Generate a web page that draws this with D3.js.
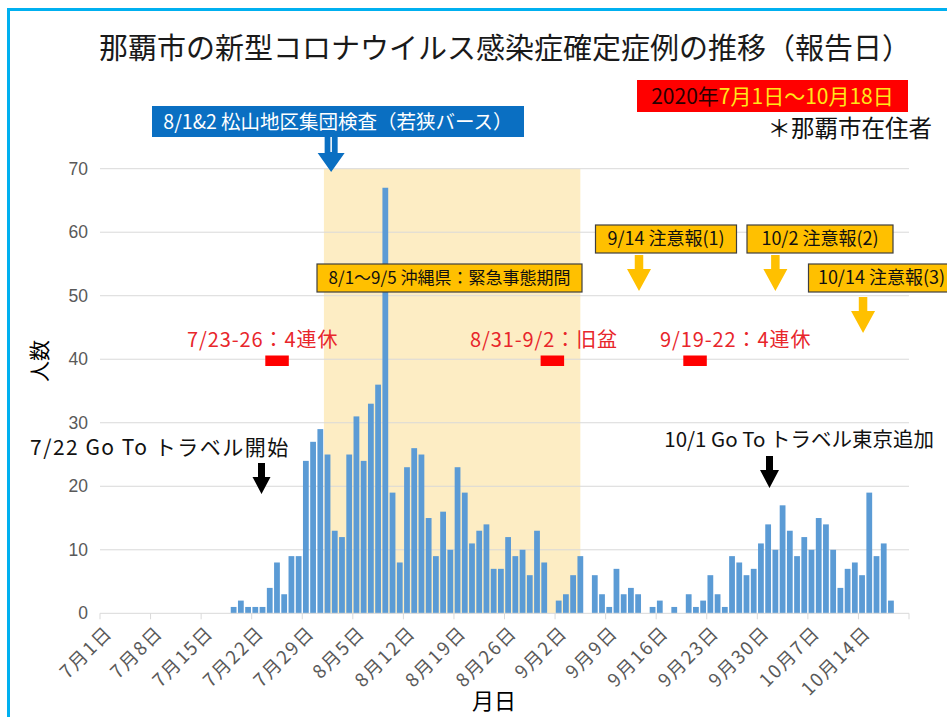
<!DOCTYPE html>
<html><head><meta charset="utf-8">
<script src="https://cdn.jsdelivr.net/npm/d3@7"></script>
<style>body{margin:0;background:#fff}svg{display:block}text{font-family:"Noto Sans CJK JP","Noto Sans",sans-serif}</style>
</head><body>
<svg id="chart" width="947" height="717"></svg>
<script>
// ---------- data ----------
const axisStart = "2020-07-01";
const axisEnd = "2020-10-20";     // last category shown on the axis
const dataStart = "2020-07-01";
// daily confirmed cases (報告日), 7/1 .. 10/18
const julyCases = [0,0,0,0,0,0,0,0,0,0,0,0,0,0,0,0,0,0,1,2,1,1,1,4,8,3,9,9,24,27,29];
const augCases  = [25,13,12,25,31,24,33,36,67,19,8,23,26,25,15,9,16,10,23,19,11,13,14,7,7,12,9,10,6,13,8];
const sepCases  = [0,2,3,6,9,0,6,3,1,7,3,4,3,0,1,2,0,1,0,3,1,2,6,3,1,9,8,6,7,11];
const octCases  = [14,10,17,13,9,12,10,15,14,10,4,7,8,6,19,9,11,2];
const yTicks = [0,10,20,30,40,50,60,70];
const xTickDates  = ["2020-07-01","2020-07-08","2020-07-15","2020-07-22","2020-07-29","2020-08-05","2020-08-12","2020-08-19","2020-08-26","2020-09-02","2020-09-09","2020-09-16","2020-09-23","2020-09-30","2020-10-07","2020-10-14"];
const xTickLabels = ["7月1日","7月8日","7月15日","7月22日","7月29日","8月5日","8月12日","8月19日","8月26日","9月2日","9月9日","9月16日","9月23日","9月30日","10月7日","10月14日"];
const emergencyStart = "2020-08-01", emergencyEnd = "2020-09-05";

const chartTitle = "那覇市の新型コロナウイルス感染症確定症例の推移（報告日）";

// ---------- setup ----------
const parse = d3.timeParse("%Y-%m-%d");
const fmt = d3.timeFormat("%Y-%m-%d");
const cases = [].concat(julyCases, augCases, sepCases, octCases);
const days = d3.timeDay.range(parse(axisStart), d3.timeDay.offset(parse(axisEnd), 1)).map(fmt);
const d0 = parse(dataStart);
const data = cases.map((v, i) => ({date: fmt(d3.timeDay.offset(d0, i)), value: v}));

const svg = d3.select("#chart");
const pL = 100, pR = 909, pT = 168.7, pB = 613.3;

const x = d3.scaleBand().domain(days).range([pL, pR]).paddingInner(0.2).paddingOuter(0.1);
const y = d3.scaleLinear().domain([0, 70]).range([pB, pT]);
const step = x.step();
const edge = d => x(d) - step * 0.1;          // left edge of a day's category
const mid = d => x(d) + x.bandwidth() / 2;

// outer frame
svg.append("path").attr("d", `M8.5,717 L8.5,9.5 L947,9.5`).attr("fill", "none")
   .attr("stroke", "#00b0f0").attr("stroke-width", 3);

// emergency shade
svg.append("rect").attr("x", edge(emergencyStart)).attr("y", pT)
   .attr("width", mid(emergencyEnd) - edge(emergencyStart)).attr("height", pB - pT)
   .attr("fill", "#fdedc4");

// gridlines
svg.append("g").selectAll("line").data(yTicks.filter(t => t > 0)).join("line")
   .attr("x1", pL).attr("x2", pR).attr("y1", d => y(d)).attr("y2", d => y(d))
   .attr("stroke", "#d9d9d9").attr("stroke-width", 1);

// y axis labels
const yAxis = d3.axisLeft(y).tickValues(yTicks).tickSize(0).tickPadding(12);
const gy = svg.append("g").attr("transform", `translate(${pL},0)`).call(yAxis);
gy.select(".domain").remove();
gy.selectAll("text").attr("font-size", 17.5).attr("fill", "#595959")
  .style("font-family", "'Liberation Sans','Noto Sans',sans-serif");

// bars
svg.append("g").selectAll("rect").data(data.filter(d => d.value > 0)).join("rect")
   .attr("x", d => x(d.date)).attr("width", x.bandwidth())
   .attr("y", d => y(d.value)).attr("height", d => y(0) - y(d.value))
   .attr("fill", "#5b9bd5");

// x axis line + ticks
svg.append("line").attr("x1", pL).attr("x2", pR).attr("y1", pB).attr("y2", pB)
   .attr("stroke", "#d9d9d9");
const gx = svg.append("g");
gx.selectAll("line").data(xTickDates.concat(["end"])).join("line")
  .attr("x1", d => d === "end" ? pR : edge(d)).attr("x2", d => d === "end" ? pR : edge(d))
  .attr("y1", pB).attr("y2", pB + 6).attr("stroke", "#d9d9d9");
gx.selectAll("text").data(xTickDates).join("text")
  .attr("transform", d => `translate(${edge(d) + 9},${pB + 16}) rotate(-45)`)
  .attr("text-anchor", "end").attr("dy", "0.35em")
  .attr("font-size", 18.5).attr("letter-spacing", 1.8).attr("fill", "#595959")
  .text((d, i) => xTickLabels[i]);

// axis titles
svg.append("text").attr("transform", "translate(40,361) rotate(-90)").attr("text-anchor", "middle")
   .attr("dy", "0.35em").attr("font-size", 21).attr("fill", "#000").text("人数");
svg.append("text").attr("x", 494).attr("y", 709).attr("text-anchor", "middle")
   .attr("font-size", 22).attr("fill", "#000").text("月日");

// title
svg.append("text").attr("x", 505).attr("y", 59).attr("text-anchor", "middle")
   .attr("font-size", 29).attr("fill", "#1a1a1a").text(chartTitle);

// date box
svg.append("rect").attr("x", 637).attr("y", 80).attr("width", 271).attr("height", 32).attr("fill", "#ff0000");
const dt = svg.append("text").attr("x", 772.5).attr("y", 104).attr("text-anchor", "middle").attr("font-size", 21);
dt.append("tspan").attr("fill", "#2a0000").text("2020年");
dt.append("tspan").attr("fill", "#ffe81a").text("7月1日～10月18日");

svg.append("text").attr("x", 932).attr("y", 137).attr("text-anchor", "end")
   .attr("font-size", 23.5).attr("fill", "#111").text("＊那覇市在住者");

// helper: down arrow
function arrow(cx, y0, shaftW, shaftH, headW, headH, color) {
  const p = [[cx - shaftW/2, y0], [cx + shaftW/2, y0], [cx + shaftW/2, y0 + shaftH], [cx + headW/2, y0 + shaftH],
             [cx, y0 + shaftH + headH], [cx - headW/2, y0 + shaftH], [cx - shaftW/2, y0 + shaftH]];
  svg.append("path").attr("d", "M" + p.map(q => q.join(",")).join("L") + "Z").attr("fill", color);
}

// blue annotation box
svg.append("rect").attr("x", 152).attr("y", 106).attr("width", 372).attr("height", 31).attr("fill", "#0a6fc2");
svg.append("text").attr("x", 338).attr("y", 128.5).attr("text-anchor", "middle").attr("font-size", 19.5)
   .attr("fill", "#fff").text("8/1&2 松山地区集団検査（若狭バース）");
const bx = edge("2020-08-02");
arrow(bx, 137, 13, 16, 27, 19, "#0a6fc2");
svg.append("line").attr("x1", bx).attr("x2", bx).attr("y1", 137).attr("y2", 152).attr("stroke", "#fff").attr("stroke-width", 1.5);

// orange boxes
function orangeBox(x0, y0, w, h, label, fs) {
  svg.append("rect").attr("x", x0).attr("y", y0).attr("width", w).attr("height", h)
     .attr("fill", "#ffc000").attr("stroke", "#3f3f3f").attr("stroke-width", 1.2);
  svg.append("text").attr("x", x0 + w/2).attr("y", y0 + h/2).attr("dy", "0.35em").attr("text-anchor", "middle")
     .attr("font-size", fs).attr("fill", "#111").text(label);
}
orangeBox(317, 264, 265, 28, "8/1～9/5 沖縄県：緊急事態期間", 17);
orangeBox(595.5, 225, 141, 28, "9/14 注意報(1)", 18);
orangeBox(747, 225, 146, 28, "10/2 注意報(2)", 18);
orangeBox(808.5, 264, 146, 28, "10/14 注意報(3)", 18);
arrow(639, 255, 8.5, 14, 24, 22, "#ffc000");
arrow(mid("2020-10-02"), 255, 8.5, 14, 24, 22, "#ffc000");
arrow(mid("2020-10-14") + 1, 297, 8.5, 14, 24, 22, "#ffc000");

// holidays (red)
function redNote(tx, label, rx) {
  svg.append("text").attr("x", tx).attr("y", 347).attr("font-size", 20).attr("letter-spacing", 0.9)
     .attr("fill", "#e8262b").text(label);
  svg.append("rect").attr("x", rx).attr("y", 355.5).attr("width", 23.5).attr("height", 10.5).attr("fill", "#ff0000");
}
redNote(187, "7/23-26：4連休", 265.3);
redNote(470, "8/31-9/2：旧盆", edge("2020-08-31"));
redNote(660, "9/19-22：4連休", 683.3);

// Go To travel notes (black)
svg.append("text").attr("x", 30).attr("y", 455).attr("font-size", 21).attr("letter-spacing", 1.5)
   .attr("fill", "#111").text("7/22 Go To トラベル開始");
arrow(261.5, 463, 7, 14, 18, 17, "#000");
svg.append("text").attr("x", 934).attr("y", 447).attr("text-anchor", "end").attr("font-size", 20.5)
   .attr("fill", "#111").text("10/1 Go To トラベル東京追加");
arrow(769.5, 456, 7, 14, 19, 18, "#000");
</script>
</body></html>
